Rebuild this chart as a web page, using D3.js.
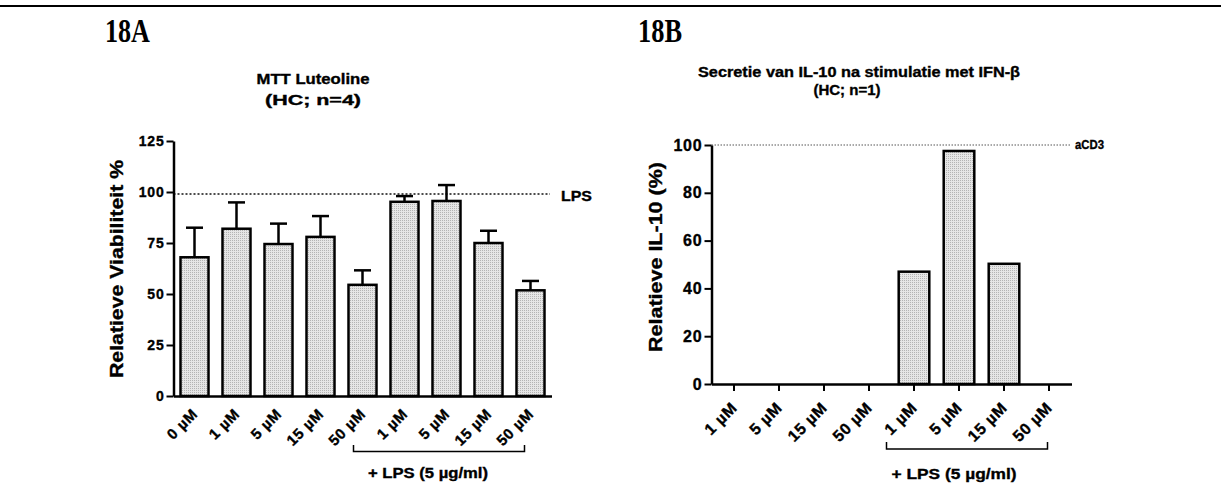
<!DOCTYPE html>
<html lang="en">
<head>
<meta charset="UTF-8">
<script src="https://d3js.org/d3.v7.min.js"></script>
<style>
  body { margin: 0; background: #fff; }
  text { font-family: "Liberation Sans", Arial, sans-serif; font-weight: bold; fill: #000; stroke: #000; stroke-width: 0.35px; }
  .serif { stroke-width: 0; }
</style>
</head>
<body>
<div class="fig"></div>
<script>
// ---- data ----
var labelsA = ["0 µM", "1 µM", "5 µM", "15 µM", "50 µM", "1 µM", "5 µM", "15 µM", "50 µM"]
var meanA = [68, 82, 74.5, 78, 54.5, 95.2, 95.6, 75, 51.8]
var semA = [14.5, 12.9, 10, 10.2, 7.1, 2.8, 7.8, 6, 4.6]
var ticksA = [0, 25, 50, 75, 100, 125]
var lpsLevel = 99

var labelsB = ["1 µM", "5 µM", "15 µM", "50 µM", "1 µM", "5 µM", "15 µM", "50 µM"]
var valB = [0, 0, 0, 0, 47, 97.5, 50.3, 0]
var ticksB = [0, 20, 40, 60, 80, 100]
var acd3Level = 100

var width = 1221, height = 497

var svg = d3.select(".fig").append("svg")
    .attr("width", width)
    .attr("height", height)

svg.append("rect").attr("width", width).attr("height", height).attr("fill", "#fff")

// stipple fill for bars
var pat = svg.append("defs").append("pattern")
    .attr("id", "stip").attr("width", 2).attr("height", 2)
    .attr("patternUnits", "userSpaceOnUse")
pat.append("rect").attr("width", 2).attr("height", 2).attr("fill", "#e6e6e6")
pat.append("rect").attr("width", 1).attr("height", 1).attr("fill", "#b4b4b4")

// top rule
svg.append("line").attr("x1", 0).attr("x2", width).attr("y1", 6).attr("y2", 6)
    .attr("stroke", "#000").attr("stroke-width", 2)

// helper for stretched text
function label(g, str, x, y, size, len, anchor, rot) {
    var t = g.append("text")
        .attr("transform", "translate(" + x + "," + y + ")" + (rot ? " rotate(" + rot + ")" : ""))
        .attr("text-anchor", anchor || "middle")
        .style("font-size", size + "px")
        .text(str)
    if (len) t.attr("textLength", len).attr("lengthAdjust", "spacingAndGlyphs")
    return t
}

// panel letters
label(svg, "18A", 105, 42, 33, 45, "start").attr("class", "serif").style("font-family", "'Liberation Serif', 'Times New Roman', serif")
label(svg, "18B", 638, 42, 33, 44, "start").attr("class", "serif").style("font-family", "'Liberation Serif', 'Times New Roman', serif")

function tidyAxis(g) {
    g.select(".domain").attr("stroke-width", 2.5)
    g.selectAll(".tick line").attr("stroke-width", 2)
}

// ================= 18A =================
var gA = svg.append("g")
var xA = d3.scaleBand().domain(d3.range(labelsA.length)).range([173.5, 551.5])
    .paddingInner(1 / 3).paddingOuter(1 / 6)
var yA = d3.scaleLinear().domain([0, 125]).range([396, 141])

label(gA, "MTT Luteoline", 313, 84, 14, 113)
label(gA, "(HC; n=4)", 313, 105, 14, 96)

// reference line
gA.append("line")
    .attr("x1", xA.range()[0]).attr("x2", 550)
    .attr("y1", yA(lpsLevel)).attr("y2", yA(lpsLevel))
    .attr("stroke", "#111").attr("stroke-width", 1.5).attr("stroke-dasharray", "2,2")
label(gA, "LPS", 561, yA(lpsLevel) + 7, 15, 31, "start")

// error bars
var capA = 17
var eb = gA.selectAll(".err").data(meanA).enter().append("g")
eb.append("line")
    .attr("x1", function (d, i) { return xA(i) + xA.bandwidth() / 2 })
    .attr("x2", function (d, i) { return xA(i) + xA.bandwidth() / 2 })
    .attr("y1", function (d) { return yA(d) })
    .attr("y2", function (d, i) { return yA(d + semA[i]) })
    .attr("stroke", "#000").attr("stroke-width", 2.5)
eb.append("line")
    .attr("x1", function (d, i) { return xA(i) + xA.bandwidth() / 2 - capA / 2 })
    .attr("x2", function (d, i) { return xA(i) + xA.bandwidth() / 2 + capA / 2 })
    .attr("y1", function (d, i) { return yA(d + semA[i]) })
    .attr("y2", function (d, i) { return yA(d + semA[i]) })
    .attr("stroke", "#000").attr("stroke-width", 2.5)

gA.selectAll(".bar").data(meanA).enter().append("rect")
    .attr("x", function (d, i) { return xA(i) })
    .attr("y", function (d) { return yA(d) })
    .attr("width", xA.bandwidth())
    .attr("height", function (d) { return yA(0) - yA(d) })
    .attr("fill", "url(#stip)").attr("stroke", "#000").attr("stroke-width", 2.5)

// axes
gA.append("g")
    .attr("transform", "translate(" + xA.range()[0] + ",0)")
    .call(d3.axisLeft(yA).tickValues(ticksA).tickSize(7).tickSizeOuter(0).tickPadding(2))
    .call(tidyAxis)
    .selectAll("text").style("font-size", "14px").style("letter-spacing", "0.8px")

gA.append("g")
    .attr("transform", "translate(0," + yA(0) + ")")
    .call(d3.axisBottom(xA).tickSize(0).tickSizeOuter(0).tickFormat(function (i) { return labelsA[i] }))
    .call(tidyAxis)
    .selectAll("text")
    .attr("y", 0).attr("dy", 0)
    .attr("transform", "translate(4,19) rotate(-45)")
    .style("text-anchor", "end").style("font-size", "15px").style("letter-spacing", "0.6px")

// y label
label(gA, "Relatieve Viabiliteit %", 123, 269, 18, 218, "middle", -90)

// LPS bracket
var brA = [xA(4) + xA.bandwidth() / 2 - 9, xA(8) + xA.bandwidth() / 2 - 6]
gA.append("path")
    .attr("d", "M" + brA[0] + ",445V451.5H" + brA[1] + "V445")
    .attr("fill", "none").attr("stroke", "#000").attr("stroke-width", 1.5)
label(gA, "+ LPS (5 µg/ml)", 428, 478, 14, 120)

// ================= 18B =================
var gB = svg.append("g")
var xB = d3.scaleBand().domain(d3.range(labelsB.length)).range([711.5, 1071.5])
    .paddingInner(0.32).paddingOuter(0.16)
var yB = d3.scaleLinear().domain([0, 100]).range([384, 145])

label(gB, "Secretie van IL-10 na stimulatie met IFN-β", 859, 77, 14, 322)
label(gB, "(HC; n=1)", 847, 95, 14, 67)

gB.append("line")
    .attr("x1", xB.range()[0]).attr("x2", 1070)
    .attr("y1", yB(acd3Level)).attr("y2", yB(acd3Level))
    .attr("stroke", "#555").attr("stroke-width", 1).attr("stroke-dasharray", "1.5,1.5")
label(gB, "aCD3", 1075, yB(acd3Level) + 4, 12, 29, "start")

gB.selectAll(".bar").data(valB.map(function (v, i) { return { v: v, i: i } }).filter(function (d) { return d.v > 0 }))
    .enter().append("rect")
    .attr("x", function (d) { return xB(d.i) })
    .attr("y", function (d) { return yB(d.v) })
    .attr("width", xB.bandwidth())
    .attr("height", function (d) { return yB(0) - yB(d.v) })
    .attr("fill", "url(#stip)").attr("stroke", "#000").attr("stroke-width", 2.5)

gB.append("g")
    .attr("transform", "translate(" + xB.range()[0] + ",0)")
    .call(d3.axisLeft(yB).tickValues(ticksB).tickSize(7).tickSizeOuter(0).tickPadding(2))
    .call(tidyAxis)
    .selectAll("text").style("font-size", "16px").style("letter-spacing", "0.8px")

gB.append("g")
    .attr("transform", "translate(0," + yB(0) + ")")
    .call(d3.axisBottom(xB).tickSize(7).tickSizeOuter(0).tickFormat(function (i) { return labelsB[i] }))
    .call(tidyAxis)
    .selectAll("text")
    .attr("y", 0).attr("dy", 0)
    .attr("transform", "translate(4,25) rotate(-45)")
    .style("text-anchor", "end").style("font-size", "16px").style("letter-spacing", "0.6px")

label(gB, "Relatieve IL-10 (%)", 662, 257, 18, 190, "middle", -90)

var brB = [xB(4) + xB.bandwidth() / 2 - 27.5, xB(7) + xB.bandwidth() / 2 - 1.5]
gB.append("path")
    .attr("d", "M" + brB[0] + ",442V449H" + brB[1] + "V442")
    .attr("fill", "none").attr("stroke", "#000").attr("stroke-width", 1.5)
label(gB, "+ LPS (5 µg/ml)", 954, 479, 15, 125)
</script>
</body>
</html>
